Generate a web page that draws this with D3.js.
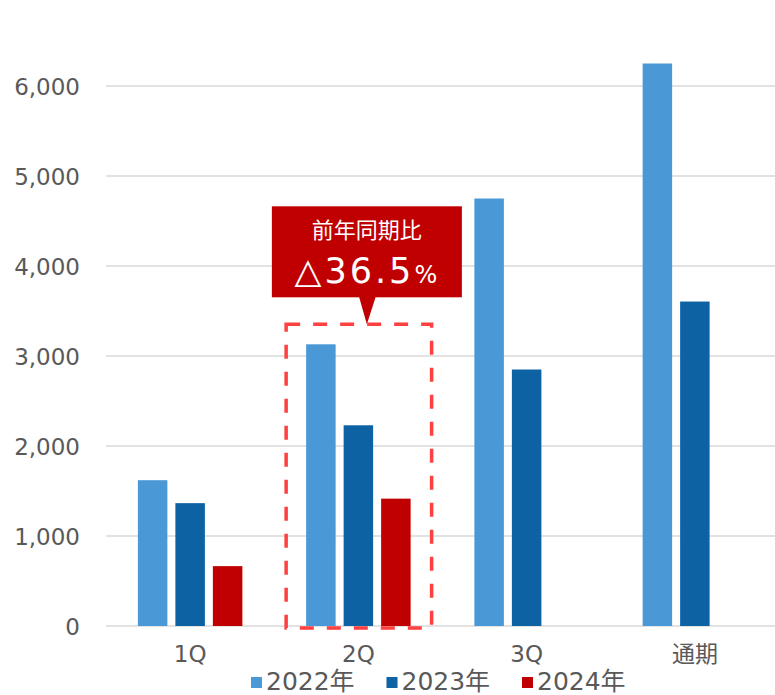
<!DOCTYPE html>
<html>
<head>
<meta charset="utf-8">
<script src="https://cdn.jsdelivr.net/npm/d3@7"></script>
<style>
  body { margin: 0; background: #fff; }
  text { font-family: "DejaVu Sans", "Noto Sans CJK JP", sans-serif; }
</style>
</head>
<body>
<div id="chart"></div>
<script>
// data
var categories = ['1Q', '2Q', '3Q', '通期'];
var seriesNames = ['2022年', '2023年', '2024年'];
var values2022 = [1620, 3130, 4750, 6250];
var values2023 = [1365, 2230, 2850, 3605];
var values2024 = [665, 1415, null, null];
var yTicks = [0, 1000, 2000, 3000, 4000, 5000, 6000];
var calloutTitle = '前年同期比';
var calloutValue = '△36.5';
var calloutUnit = '%';

var colors = ['#4b98d6', '#0c62a3', '#c00000'];
var width = 775, height = 695;

var svg = d3.select('#chart').append('svg')
  .attr('width', width)
  .attr('height', height);

var y = d3.scaleLinear().domain([0, 6000]).range([626, 86]);

var x0 = d3.scaleBand().domain(categories).range([106, 779])
  .paddingInner(0.3314).paddingOuter(0.1657);
var x1 = d3.scaleBand().domain(seriesNames).range([0, x0.bandwidth()])
  .paddingInner(0.2133).paddingOuter(0.1067);

// grid lines
svg.append('g').selectAll('line')
  .data(yTicks)
  .enter().append('line')
  .attr('x1', 106).attr('x2', 775)
  .attr('y1', function(d) { return y(d); })
  .attr('y2', function(d) { return y(d); })
  .attr('stroke', '#d9d9d9')
  .attr('stroke-width', 1.5);

// y labels
svg.append('g').selectAll('text')
  .data(yTicks)
  .enter().append('text')
  .attr('x', 80)
  .attr('y', function(d) { return y(d) + 8.5; })
  .attr('text-anchor', 'end')
  .attr('fill', '#595959')
  .style('font-size', '23px')
  .text(function(d) { return d3.format(',')(d); });

// bars
var allSeries = [values2022, values2023, values2024];
var rows = [];
categories.forEach(function(c, i) {
  seriesNames.forEach(function(s, j) {
    if (allSeries[j][i] != null) rows.push({cat: c, series: s, idx: j, value: allSeries[j][i]});
  });
});

svg.append('g').selectAll('rect')
  .data(rows)
  .enter().append('rect')
  .attr('x', function(d) { return x0(d.cat) + x1(d.series); })
  .attr('width', x1.bandwidth())
  .attr('y', function(d) { return y(d.value); })
  .attr('height', function(d) { return y(0) - y(d.value); })
  .attr('fill', function(d) { return colors[d.idx]; });

// category labels
svg.append('g').selectAll('text')
  .data(categories)
  .enter().append('text')
  .attr('x', function(d) { return x0(d) + x0.bandwidth() / 2; })
  .attr('y', 662)
  .attr('text-anchor', 'middle')
  .attr('fill', '#595959')
  .style('font-size', '23px')
  .text(function(d) { return d; });

// dashed box round 2Q
var boxLeft = x0('2Q') - 16;
var boxRight = x0('2Q') + x0.bandwidth() + 17;
var boxTop = y(d3.max([values2022[1], values2023[1], values2024[1]])) - 20;
var boxBottom = y(0) + 2;
svg.append('rect')
  .attr('x', boxLeft).attr('y', boxTop)
  .attr('width', boxRight - boxLeft)
  .attr('height', boxBottom - boxTop)
  .attr('fill', 'none')
  .attr('stroke', '#ff4040')
  .attr('stroke-width', 3.5)
  .attr('stroke-dasharray', '14,13');

// callout
var cx = (boxLeft + boxRight) / 2 + 8;
var cw = 190, ch = 91;
var cTop = boxTop - 118;
var callout = svg.append('g');
callout.append('rect')
  .attr('x', cx - cw / 2).attr('y', cTop)
  .attr('width', cw).attr('height', ch)
  .attr('fill', '#c00000');
callout.append('path')
  .attr('d', 'M' + (cx - 8) + ',' + (cTop + ch - 1) + ' L' + (cx + 9) + ',' + (cTop + ch - 1) +
    ' L' + cx + ',' + boxTop + ' Z')
  .attr('fill', '#c00000');
callout.append('text')
  .attr('x', cx).attr('y', cTop + 32)
  .attr('text-anchor', 'middle')
  .attr('fill', '#fff')
  .style('font-size', '22px')
  .style('font-family', '"Noto Sans CJK JP", sans-serif')
  .text(calloutTitle);
var vt = callout.append('text')
  .attr('x', cx - 1).attr('y', cTop + 77)
  .attr('text-anchor', 'middle')
  .attr('fill', '#fff');
vt.append('tspan')
  .style('font-size', '35px')
  .style('letter-spacing', '3px')
  .text(calloutValue);
vt.append('tspan')
  .style('font-size', '24px')
  .text(calloutUnit);

// legend
var legend = svg.append('g').selectAll('g')
  .data(seriesNames)
  .enter().append('g')
  .attr('transform', function(d, i) { return 'translate(' + (251 + i * 135.5) + ',677)'; });
legend.append('rect')
  .attr('width', 11).attr('height', 11)
  .attr('fill', function(d, i) { return colors[i]; });
legend.append('text')
  .attr('x', 15).attr('y', 13)
  .attr('fill', '#595959')
  .style('font-size', '25px')
  .text(function(d) { return d; });
</script>
</body>
</html>
